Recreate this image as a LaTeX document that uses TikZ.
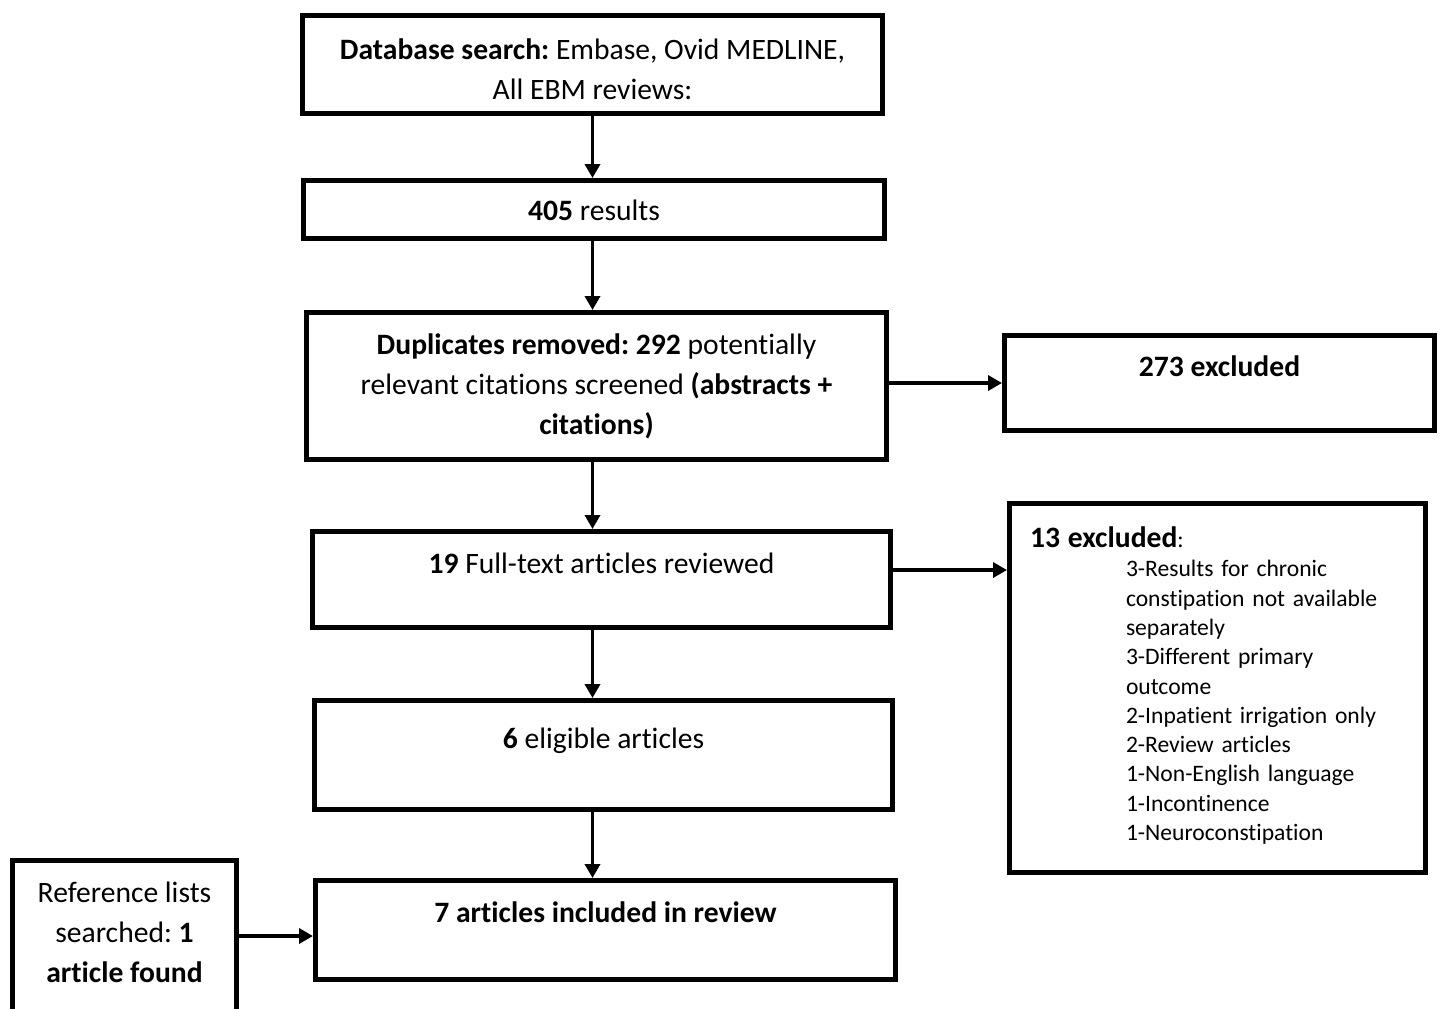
\documentclass[tikz,border=0pt]{standalone}
\usepackage{fontspec}
\setmainfont{Carlito}[Ligatures={NoCommon}]
\usetikzlibrary{positioning, arrows.meta}

\begin{document}
\frenchspacing
\begin{tikzpicture}[x=0.5pt, y=-0.5pt,
  box/.style={draw, line width=2.5pt, inner sep=0pt, align=center, font=\fontsize{14.8}{20}\selectfont},
  arr/.style={line width=1.8pt, -{Triangle[length=7pt, width=7.5pt]}}]

\clip (0,0) rectangle (1442,1008);

% Main Column
\node[box, minimum width=290pt, text height=41.75pt, text depth=7.25pt] (search) at (592.5,64.5) {\textbf{Database search:} Embase, Ovid MEDLINE,\\ All EBM reviews:};
\node[box, minimum width=290.5pt, text height=20pt, text depth=9pt] (results) at (594,209.5) {\textbf{405} results};
\node[box, minimum width=290pt, minimum height=73.5pt] (screened) at (596.5,386) {\textbf{Duplicates removed: 292} potentially\\ relevant citations screened \textbf{(abstracts +}\\ \textbf{citations)}};
\node[box, minimum width=289pt, text height=21pt, text depth=27pt] (fulltext) at (601.5,579.5) {\textbf{19} Full-text articles reviewed};
\node[box, minimum width=289pt, text height=24pt, text depth=30.5pt] (eligible) at (603.5,755) {\textbf{6} eligible articles};
\node[box, minimum width=290pt, text height=21pt, text depth=28.5pt] (included) at (605.5,930) {\textbf{7 articles included in review}};

% Excluded Column
\node[box, minimum width=215pt, text height=20.5pt, text depth=27pt] (excl_abs) at (1219.5,383) {\textbf{273 excluded}};
\node[box, minimum width=208pt, minimum height=184.5pt, inner xsep=10.25pt, text width=187.5pt, align=left, font=\fontsize{11.8}{14.65}\selectfont] (excl_full) at (1217.5,688) {\begin{tabular}{@{}l@{}}
{\fontsize{14.8}{14.65}\selectfont\textbf{13 excluded}}:\\
\hspace*{48pt}3-Results for chronic\\
\hspace*{48pt}constipation not available\\
\hspace*{48pt}separately\\
\hspace*{48pt}3-Different primary\\
\hspace*{48pt}outcome\\
\hspace*{48pt}2-Inpatient irrigation only\\
\hspace*{48pt}2-Review articles\\
\hspace*{48pt}1-Non-English language\\
\hspace*{48pt}1-Incontinence\\
\hspace*{48pt}1-Neuroconstipation
\end{tabular}};

% Reference Lists
\node[box, anchor=north, minimum width=112pt, inner ysep=10.75pt, text depth=40pt] (reflists) at (124.5,857.5) {Reference lists\\ searched: \textbf{1}\\ \textbf{article found}};

% Arrows
\draw[arr] (search.south) -- (search.south |- results.north);
\draw[arr] (search.south |- results.south) -- (search.south |- screened.north);
\draw[arr] (search.south |- screened.south) -- (search.south |- fulltext.north);
\draw[arr] (search.south |- fulltext.south) -- (search.south |- eligible.north);
\draw[arr] (search.south |- eligible.south) -- (search.south |- included.north);

\draw[arr] (screened.east |- excl_abs.west) -- (excl_abs.west);
\draw[arr] ([yshift=4.75pt]fulltext.east) -- ([yshift=4.75pt]fulltext.east -| excl_full.west);
\draw[arr] ([yshift=-3pt]included.west -| reflists.east) -- ([yshift=-3pt]included.west);

\end{tikzpicture}
\end{document}
